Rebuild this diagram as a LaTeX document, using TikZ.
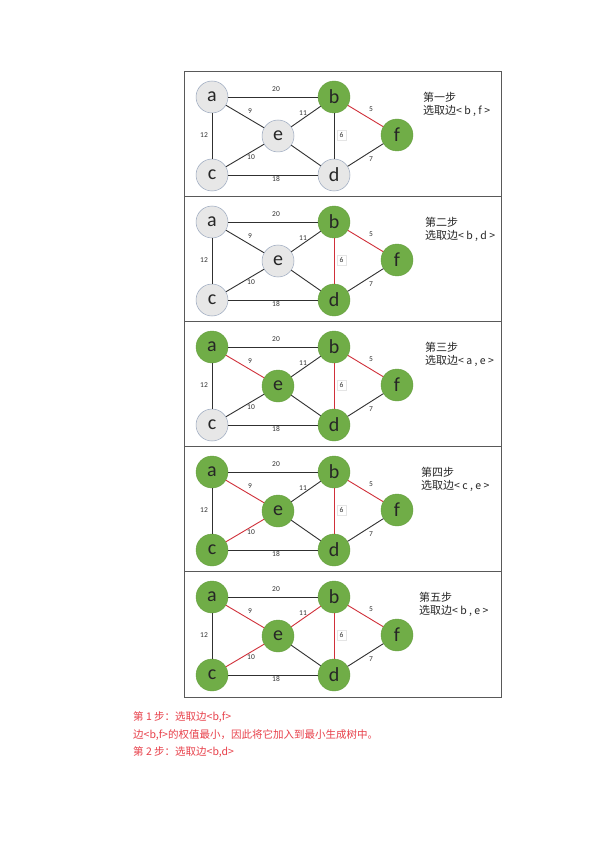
\documentclass[tikz,border=0pt]{standalone}
\usepackage{fontspec}
\newfontfamily\cjk{Noto Sans CJK SC}
\newfontfamily\lbl{Carlito}
\definecolor{grn}{HTML}{70AD47}
\definecolor{grnd}{HTML}{67A040}
\definecolor{gryf}{HTML}{E7E7E7}
\definecolor{gryd}{HTML}{9AA8BE}
\definecolor{edk}{HTML}{303030}
\definecolor{erd}{HTML}{D0303A}
\definecolor{txr}{HTML}{E8404A}
\tikzset{
  nd/.style={circle,minimum size=32pt,inner sep=0pt,font=\lbl\fontsize{20}{20}\selectfont,text=black!85},
  gn/.style={fill=grn,draw=grnd,line width=0.4pt},
  gy/.style={fill=gryf,draw=gryd,line width=0.5pt},
  bk/.style={draw=edk,line width=0.9pt},
  rd/.style={draw=erd,line width=0.9pt},
  wl/.style={font=\lbl\fontsize{7.5}{7.5}\selectfont,text=black!80,inner sep=1pt},
  bx/.style={wl,draw=black!10,fill=white,line width=0.3pt,minimum width=9pt,minimum height=10pt},
  ttl/.style={font=\cjk\fontsize{11}{11}\selectfont,anchor=west,inner sep=0pt,text=black!85},
  bot/.style={font=\cjk\fontsize{10.5}{10.5}\selectfont,anchor=west,inner sep=0pt,text=txr},
  frm/.style={draw=black!65,line width=0.8pt}
}
\newcommand\panelbody[5]{%
  \node[nd,na] (a#1) at (212,#2+26) {a};
  \node[nd,gn] (b#1) at (334,#2+26) {b};
  \node[nd,ne] (e#1) at (278,#2+65) {e};
  \node[nd,gn] (f#1) at (397,#2+64) {f};
  \node[nd,nc] (c#1) at (212,#2+104) {c};
  \node[nd,nd4] (d#1) at (334,#2+104) {d};
  \draw[bk] (a#1) -- (b#1);
  \draw[bk] (a#1) -- (c#1);
  \draw[bk] (c#1) -- (d#1);
  \draw[bk] (e#1) -- (d#1);
  \draw[bk] (d#1) -- (f#1);
  \draw[eae] (a#1) -- (e#1);
  \draw[ebe] (b#1) -- (e#1);
  \draw[ece] (c#1) -- (e#1);
  \draw[ebd] (b#1) -- (d#1);
  \draw[rd] (b#1) -- (f#1);
  \node[wl] (l20#1) at (276,#2+18) {20};
  \node[wl] (l9#1) at (250,#2+40) {9};
  \node[wl] (l11#1) at (303,#2+42) {11};
  \node[wl] (l12#1) at (204,#2+64) {12};
  \node[bx] (l6#1) at (341.5,#2+64) {6};
  \node[wl] (l5#1) at (371,#2+38) {5};
  \node[wl] (l10#1) at (251,#2+86) {10};
  \node[wl] (l7#1) at (371,#2+88) {7};
  \node[wl] (l18#1) at (276,#2+108) {18};
  \node[ttl] (t#1) at (#3,#2+26) {#4};
  \node[ttl] (s#1) at (#3,#2+39.5) {选取边\fontsize{10.5}{11}\selectfont< #5 >};
}
\begin{document}
\begin{tikzpicture}[x=1pt,y=-1pt]
\useasboundingbox[fill=white] (0,0) rectangle (596,842);
\draw[frm] (184,71) rectangle (501,697);
\draw[frm] (184,196) -- (501,196);
\draw[frm] (184,321) -- (501,321);
\draw[frm] (184,446) -- (501,446);
\draw[frm] (184,571) -- (501,571);
\begin{scope}[na/.style=gy,nc/.style=gy,nd4/.style=gy,ne/.style=gy,
  eae/.style=bk,ebe/.style=bk,ece/.style=bk,ebd/.style=bk]
  \panelbody{1}{71}{423}{第一步}{b , f}
\end{scope}
\begin{scope}[na/.style=gy,nc/.style=gy,nd4/.style=gn,ne/.style=gy,
  eae/.style=bk,ebe/.style=bk,ece/.style=bk,ebd/.style=rd]
  \panelbody{2}{196}{425}{第二步}{b , d}
\end{scope}
\begin{scope}[na/.style=gn,nc/.style=gy,nd4/.style=gn,ne/.style=gn,
  eae/.style=rd,ebe/.style=bk,ece/.style=bk,ebd/.style=rd]
  \panelbody{3}{321}{425}{第三步}{a , e}
\end{scope}
\begin{scope}[na/.style=gn,nc/.style=gn,nd4/.style=gn,ne/.style=gn,
  eae/.style=rd,ebe/.style=bk,ece/.style=rd,ebd/.style=rd]
  \panelbody{4}{446}{421}{第四步}{c , e}
\end{scope}
\begin{scope}[na/.style=gn,nc/.style=gn,nd4/.style=gn,ne/.style=gn,
  eae/.style=rd,ebe/.style=rd,ece/.style=rd,ebd/.style=rd]
  \panelbody{5}{571}{419}{第五步}{b , e}
\end{scope}
\node[bot] (p1) at (133,717) {第 1 步：选取边<b,f>};
\node[bot] (p2) at (133,735) {边<b,f>的权值最小，因此将它加入到最小生成树中。};
\node[bot] (p3) at (133,752.5) {第 2 步：选取边<b,d>};
\end{tikzpicture}
\end{document}
